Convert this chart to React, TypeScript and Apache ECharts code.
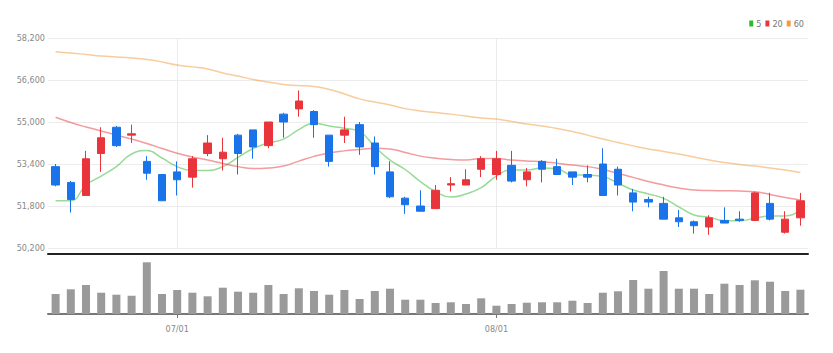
import React, { useEffect, useRef } from "react";
import * as echarts from "echarts";

const dates = [
  "06/21", "06/22", "06/23", "06/24", "06/27", "06/28", "06/29", "06/30",
  "07/01", "07/04", "07/05", "07/06", "07/07", "07/08", "07/11", "07/12",
  "07/13", "07/14", "07/15", "07/18", "07/19", "07/20", "07/21", "07/22",
  "07/25", "07/26", "07/27", "07/28", "07/29", "08/01", "08/02", "08/03",
  "08/04", "08/05", "08/08", "08/09", "08/10", "08/11", "08/12", "08/16",
  "08/17", "08/18", "08/19", "08/22", "08/23", "08/24", "08/25", "08/26",
  "08/29", "08/30",
];

const opens = [
  53300, 52700, 52200, 53800, 54800, 54500, 53500, 53000, 53100, 52900,
  53800, 53600, 54500, 54700, 54100, 55300, 55500, 55400, 54500, 54500,
  54900, 54200, 53100, 52100, 51800, 51700, 52600, 52600, 53200, 53000,
  53350, 52800, 53500, 53300, 53100, 53000, 53400, 53200, 52300, 52050,
  51900, 51350, 51200, 51000, 51250, 51300, 51250, 51900, 50800, 51350,
];
const closes = [
  52600, 52050, 53600, 54400, 54100, 54550, 53050, 52000, 52800, 53600,
  54200, 53850, 53800, 54050, 55000, 55000, 55800, 54900, 53500, 54700,
  54050, 53300, 52150, 51850, 51600, 52400, 52650, 52800, 53600, 53600,
  52750, 53100, 53200, 53000, 52900, 52900, 52200, 52600, 51950, 51950,
  51300, 51200, 51050, 51350, 51150, 51250, 52300, 51300, 51300, 52000,
];
const lows = [
  52550, 51550, 52200, 53100, 54050, 54200, 52800, 52000, 52200, 52500,
  53700, 53150, 53000, 53600, 54000, 54400, 55200, 54400, 53300, 54200,
  53750, 53000, 52100, 51500, 51600, 51700, 52350, 52600, 52900, 52800,
  52700, 52550, 52700, 53000, 52600, 52700, 52200, 52200, 51600, 51750,
  51300, 51000, 50750, 50700, 51150, 51200, 51250, 51250, 50750, 51050,
];
const highs = [
  53400, 52750, 53900, 54800, 54850, 54900, 53700, 53000, 53500, 53700,
  54500, 54400, 54550, 54700, 55000, 55350, 56200, 55450, 54500, 55200,
  55000, 54450, 53500, 52150, 52400, 52600, 52900, 53200, 53700, 53900,
  53900, 53250, 53550, 53600, 53100, 53350, 54000, 53300, 52450, 52150,
  52150, 51650, 51250, 51450, 51750, 51600, 52350, 52300, 51600, 52300,
];

const ma5 = [
  52000, 52000, 52600, 52940, 53300, 53780, 53910, 53630, 53300, 53150,
  53150, 53300, 53650, 53990, 54200, 54350, 54710, 54950, 54850, 54760,
  54630, 54060, 53550, 53190, 52730, 52350, 52140, 52260, 52500, 52940,
  53170, 53170, 53250, 53210, 52980, 52980, 52920, 52670, 52410, 52260,
  52090, 51770, 51460, 51370, 51240, 51240, 51330, 51420, 51420, 51650,
];
const ma20 = [
  55180, 54980, 54810, 54660, 54500, 54350, 54180, 53990, 53810, 53670,
  53550, 53420, 53300, 53230, 53250, 53320, 53510, 53690, 53820, 53900,
  53950, 54000, 53970, 53840, 53700, 53620, 53570, 53550, 53610, 53610,
  53550, 53510, 53490, 53430, 53360, 53300, 53190, 53040, 52890, 52730,
  52600, 52490, 52410, 52390, 52380, 52370, 52340, 52240, 52120, 52030,
];
const ma60 = [
  57680, 57630, 57570, 57510, 57480, 57440, 57380, 57290, 57170, 57100,
  57020, 56870, 56750, 56620, 56520, 56430, 56390, 56350, 56240, 56070,
  55880, 55760, 55650, 55510, 55420, 55360, 55300, 55230, 55150, 55110,
  55020, 54920, 54850, 54750, 54640, 54500, 54350, 54220, 54090, 53970,
  53880, 53780, 53670, 53550, 53460, 53380, 53320, 53250, 53170, 53080,
];

const volumes = [
  200, 247, 290, 213, 193, 183, 517, 200, 240, 213,
  177, 263, 223, 213, 290, 200, 257, 230, 193, 240,
  150, 230, 253, 143, 143, 110, 117, 100, 157, 83,
  100, 113, 117, 117, 133, 110, 213, 227, 340, 253,
  430, 253, 253, 200, 303, 290, 337, 323, 230, 243,
];

const maNames = ["5", "20", "60"];
const maColors = ["#2eb82e", "#e8383d", "#f29a3c"];

const PRICE_MIN = 50200;
const PRICE_MAX = 58200;
const PRICE_STEP = 1600;
const VOL_MAX = 580;

const FONT = '"Liberation Sans Narrow", "Arial Narrow", "DejaVu Sans Condensed", sans-serif';

const isMonthStart = (i: number) =>
  i > 0 && dates[i].slice(0, 2) !== dates[i - 1].slice(0, 2);

export default function App() {
  const ref = useRef<HTMLDivElement>(null);

  useEffect(() => {
    if (!ref.current) return;
    const chart = echarts.init(ref.current, undefined, { renderer: "svg" });
    const candleData = dates.map((_, i) => [opens[i], closes[i], lows[i], highs[i]]);
    const monthStarts = dates.filter((_, i) => isMonthStart(i));
    const maSeries = [ma5, ma20, ma60].map((arr, k) => ({
      name: maNames[k],
      type: "line",
      data: arr,
      xAxisIndex: 0,
      yAxisIndex: 0,
      symbol: "none",
      smooth: true,
      itemStyle: { color: maColors[k] },
      lineStyle: { color: maColors[k], width: 1.5, opacity: 0.5 },
      z: 3,
    }));

    chart.setOption({
      animation: false,
      backgroundColor: "#fff",
      textStyle: { fontFamily: FONT },
      legend: {
        data: maNames,
        right: 29,
        top: 19,
        icon: "rect",
        itemWidth: 4,
        itemHeight: 6,
        itemGap: 4,
        padding: 0,
        textStyle: { fontSize: 9, color: "#777", fontFamily: FONT, padding: [0, 0, 0, -2] },
      },
      grid: [
        { left: 48, right: 25, top: 38, bottom: 105 },
        { left: 48, right: 25, top: 256, bottom: 39 },
      ],
      xAxis: [
        {
          type: "category",
          data: dates,
          gridIndex: 0,
          boundaryGap: true,
          offset: 6,
          axisLine: { show: true, lineStyle: { color: "#222", width: 2 } },
          axisTick: { show: false },
          axisLabel: { show: false },
          splitLine: { show: false },
        },
        {
          type: "category",
          data: dates,
          gridIndex: 1,
          boundaryGap: true,
          axisLine: { show: true, lineStyle: { color: "#777", width: 2 } },
          axisTick: {
            show: true,
            alignWithLabel: true,
            interval: (i: number) => isMonthStart(i),
            length: 4,
            lineStyle: { color: "#777" },
          },
          axisLabel: {
            show: true,
            interval: (i: number) => isMonthStart(i),
            color: "#888",
            fontSize: 9,
            fontFamily: FONT,
            margin: 10,
          },
          splitLine: { show: false },
        },
      ],
      yAxis: [
        {
          type: "value",
          gridIndex: 0,
          min: PRICE_MIN,
          max: PRICE_MAX,
          interval: PRICE_STEP,
          axisLine: { show: false },
          axisTick: { show: false },
          axisLabel: {
            color: "#888",
            fontSize: 9,
            fontFamily: FONT,
            margin: 3,
            formatter: (v: number) => v.toLocaleString("en-US"),
          },
          splitLine: { show: true, lineStyle: { color: "#ececec", width: 1 } },
        },
        {
          type: "value",
          gridIndex: 1,
          min: 0,
          max: VOL_MAX,
          axisLine: { show: false },
          axisTick: { show: false },
          axisLabel: { show: false },
          splitLine: { show: false },
        },
      ],
      series: [
        {
          name: "price",
          type: "candlestick",
          data: candleData,
          xAxisIndex: 0,
          yAxisIndex: 0,
          barWidth: 8,
          itemStyle: {
            color: "#e8343a",
            color0: "#1a73e8",
            borderColor: "#e8343a",
            borderColor0: "#1a73e8",
            borderWidth: 1,
          },
          markLine: {
            silent: true,
            symbol: ["none", "none"],
            label: { show: false },
            lineStyle: { color: "#ebebeb", type: "solid", width: 1 },
            data: monthStarts.map((d) => ({ xAxis: d })),
            z: 1,
          },
          z: 4,
        },
        ...maSeries,
        {
          name: "volume",
          type: "bar",
          data: volumes,
          xAxisIndex: 1,
          yAxisIndex: 1,
          barWidth: 8,
          itemStyle: { color: "#9a9a9a" },
        },
      ],
    });
    return () => chart.dispose();
  }, []);

  return (
    <div
      ref={ref}
      style={{ position: "absolute", left: 0, top: 0, width: 833, height: 353 }}
    />
  );
}
